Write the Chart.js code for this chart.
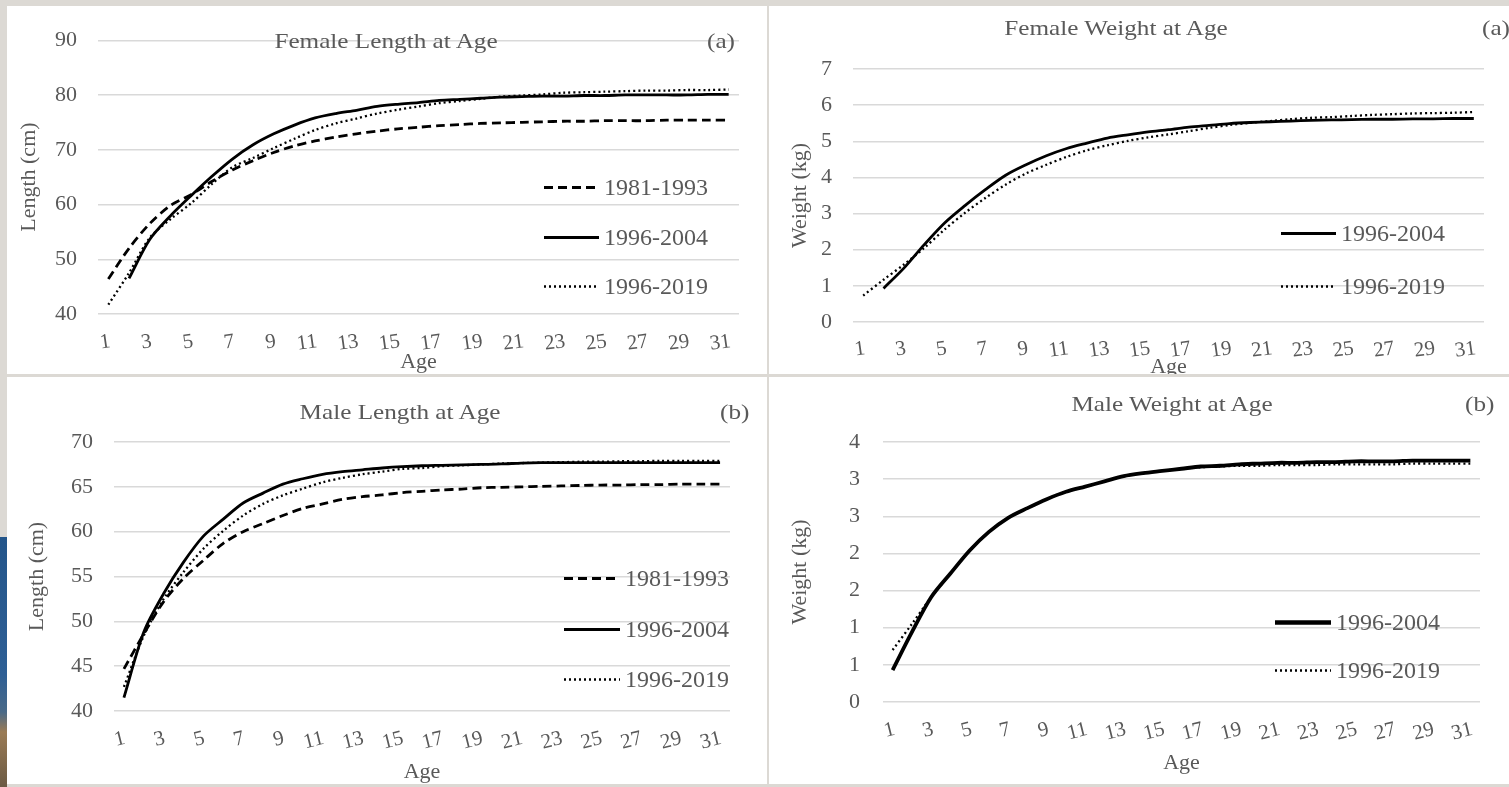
<!DOCTYPE html>
<html>
<head>
<meta charset="utf-8">
<script src="https://cdn.jsdelivr.net/npm/chart.js@4.4.1/dist/chart.umd.min.js"></script>
<style>
  html, body { margin: 0; padding: 0; }
  body {
    width: 1509px; height: 787px; position: relative; overflow: hidden;
    background: #dcd9d4; font-family: "Liberation Serif", "Times New Roman", serif; color: #595959;
  }
  .panel { position: absolute; background: #fff; overflow: hidden; }
  .panel canvas { position: absolute; left: 0; top: 0; }
  .title { position: absolute; font-size: 21px; white-space: nowrap; transform: translate(-50%, -50%) scaleX(1.2); }
  .tag { position: absolute; font-size: 21px; white-space: nowrap; transform-origin: left center; transform: translateY(-50%) scaleX(1.2); }
  .legend-item { position: absolute; display: flex; align-items: center; font-size: 24px; white-space: nowrap; transform: translateY(-50%); }
  .legend-item svg { margin-right: 5px; }
  #photo {
    position: absolute; left: 0; top: 537px; width: 7px; height: 250px;
    background: linear-gradient(#23558a 0%, #2e5f95 55%, #4a6a88 70%, #9a7b55 78%, #6b5a44 100%);
  }
</style>
</head>
<body>
<div id="photo"></div>
<div class="panel" style="left:7px;top:6px;width:760px;height:368px"><canvas id="femLen" width="760" height="368"></canvas></div>
<div class="panel" style="left:769px;top:6px;width:740px;height:368px"><canvas id="femWt" width="740" height="368"></canvas></div>
<div class="panel" style="left:7px;top:377px;width:760px;height:407px"><canvas id="maleLen" width="760" height="407"></canvas></div>
<div class="panel" style="left:769px;top:377px;width:740px;height:407px"><canvas id="maleWt" width="740" height="407"></canvas></div>

<div class="title" style="left:386px;top:41px">Female Length at Age</div>
<div class="tag" style="left:707px;top:41px">(a)</div>
<div class="title" style="left:1116px;top:28px">Female Weight at Age</div>
<div class="tag" style="left:1482px;top:28px">(a)</div>
<div class="title" style="left:400px;top:412px">Male Length at Age</div>
<div class="tag" style="left:720px;top:412px">(b)</div>
<div class="title" style="left:1172px;top:404px">Male Weight at Age</div>
<div class="tag" style="left:1465px;top:404px">(b)</div>

<script>
// ages on the x axis
const ages = [1, 2, 3, 4, 5, 6, 7, 8, 9, 10, 11, 12, 13, 14, 15, 16, 17, 18, 19, 20,
  21, 22, 23, 24, 25, 26, 27, 28, 29, 30, 31];

const seriesNames = ["1981-1993", "1996-2004", "1996-2019"];

// female length (cm)
const femLen1981 = [46.4, 52.0, 56.5, 59.8, 61.8, 64.2, 66.3, 68.0, 69.5, 70.7, 71.6, 72.3, 72.9, 73.4, 73.8,
  74.1, 74.4, 74.6, 74.8, 74.9, 75.0, 75.1, 75.2, 75.2, 75.3, 75.3, 75.3, 75.4, 75.4, 75.4, 75.4];
const femLen2004 = [null, 46.5, 53.6, 57.9, 61.6, 65.1, 68.3, 70.9, 72.9, 74.5, 75.8, 76.6, 77.2, 77.9, 78.3,
  78.6, 79.0, 79.2, 79.4, 79.6, 79.7, 79.8, 79.8, 79.9, 79.9, 80.0, 80.0, 80.0, 80.0, 80.1, 80.1];
const femLen2019 = [41.7, 47.5, 53.9, 57.3, 60.2, 63.7, 66.8, 68.5, 70.3, 72.0, 73.6, 74.8, 75.7, 76.6, 77.3,
  77.9, 78.5, 78.9, 79.3, 79.7, 79.9, 80.1, 80.4, 80.5, 80.6, 80.7, 80.8, 80.8, 80.9, 80.9, 81.0];

// female weight (kg)
const femWt2004 = [null, 0.93, 1.49, 2.14, 2.74, 3.22, 3.66, 4.06, 4.35, 4.60, 4.80, 4.95, 5.09, 5.18, 5.26,
  5.32, 5.39, 5.44, 5.49, 5.52, 5.54, 5.56, 5.58, 5.59, 5.60, 5.61, 5.61, 5.62, 5.62, 5.63, 5.63];
const femWt2019 = [0.73, 1.17, 1.59, 2.05, 2.56, 3.02, 3.43, 3.80, 4.11, 4.35, 4.57, 4.75, 4.89, 5.01, 5.11,
  5.19, 5.28, 5.37, 5.45, 5.51, 5.56, 5.61, 5.65, 5.67, 5.70, 5.73, 5.75, 5.77, 5.78, 5.79, 5.81];

// male length (cm)
const maleLen1981 = [44.7, 48.6, 52.2, 54.8, 56.8, 58.7, 60.0, 60.9, 61.8, 62.6, 63.1, 63.6, 63.9, 64.1, 64.35,
  64.5, 64.65, 64.75, 64.9, 64.95, 65.0, 65.05, 65.1, 65.15, 65.2, 65.2, 65.25, 65.25, 65.3, 65.3, 65.3];
const maleLen2004 = [41.5, 48.8, 53.1, 56.6, 59.5, 61.4, 63.2, 64.3, 65.3, 65.9, 66.4, 66.7, 66.9, 67.1, 67.25,
  67.35, 67.4, 67.45, 67.5, 67.55, 67.65, 67.7, 67.7, 67.7, 67.7, 67.7, 67.7, 67.7, 67.7, 67.7, 67.7];
const maleLen2019 = [42.7, 48.4, 52.5, 55.5, 58.1, 60.1, 61.8, 63.1, 64.05, 64.8, 65.5, 66.0, 66.4, 66.7, 67.0,
  67.1, 67.3, 67.4, 67.5, 67.6, 67.65, 67.7, 67.75, 67.8, 67.8, 67.85, 67.85, 67.9, 67.9, 67.9, 67.9];

// male weight (kg)
const maleWt2004 = [0.43, 0.94, 1.41, 1.73, 2.04, 2.29, 2.48, 2.61, 2.73, 2.83, 2.90, 2.97, 3.04, 3.08, 3.11,
  3.14, 3.17, 3.18, 3.20, 3.21, 3.22, 3.22, 3.23, 3.23, 3.24, 3.24, 3.24, 3.25, 3.25, 3.25, 3.25];
const maleWt2019 = [0.70, 1.05, 1.41, 1.73, 2.04, 2.29, 2.48, 2.61, 2.73, 2.83, 2.90, 2.97, 3.04, 3.08, 3.11,
  3.14, 3.16, 3.17, 3.18, 3.18, 3.19, 3.19, 3.19, 3.20, 3.20, 3.20, 3.20, 3.21, 3.21, 3.21, 3.21];

const textColor = "#595959";
Chart.defaults.font.family = '"Liberation Serif", "Times New Roman", serif';
Chart.defaults.color = textColor;

const lineStyles = {
  "1981-1993": { borderDash: [9, 5], borderWidth: 2.8 },
  "1996-2004": { borderDash: [], borderWidth: 2.8 },
  "1996-2019": { borderDash: [2, 3], borderWidth: 2.3 },
};

function series(name, values, width) {
  const st = lineStyles[name];
  return {
    label: name,
    data: values,
    borderColor: "#000",
    borderWidth: width || st.borderWidth,
    borderDash: st.borderDash,
    pointRadius: 0,
    tension: 0.3,
    spanGaps: false,
  };
}

function buildChart(id, datasets, yOpts, geo) {
  return new Chart(document.getElementById(id), {
    type: "line",
    data: { labels: ages, datasets: datasets },
    options: {
      responsive: false,
      animation: false,
      layout: { padding: { top: geo.top, right: geo.right, left: 0, bottom: 0 } },
      plugins: { legend: { display: false }, tooltip: { enabled: false } },
      scales: {
        x: {
          offset: true,
          grid: { display: false },
          border: { display: false },
          ticks: {
            autoSkip: false,
            minRotation: geo.rot,
            maxRotation: geo.rot,
            labelOffset: geo.labelShift,
            padding: geo.xTickPad,
            color: textColor,
            font: { size: 21 },
            callback: (v, i) => (i % 2 === 0 ? ages[i] : ""),
          },
          title: { display: true, text: "Age", color: textColor, font: { size: 22 },
            padding: { top: 0, bottom: geo.xTitlePad } },
          afterFit: (s) => { s.height = geo.xHeight; },
        },
        y: {
          min: yOpts.min,
          max: yOpts.max,
          grid: { color: "#d9d9d9", lineWidth: 1.4, drawTicks: false },
          border: { display: false },
          ticks: {
            stepSize: yOpts.step,
            padding: geo.yTickPad,
            color: textColor,
            font: { size: 22 },
            callback: yOpts.fmt || ((v) => v),
          },
          title: { display: true, text: yOpts.title, color: textColor, font: { size: 22 },
            padding: { top: geo.yTitlePad, bottom: 0 } },
          afterFit: (s) => { s.width = geo.yWidth; },
        },
      },
    },
  });
}

buildChart("femLen",
  [series("1981-1993", femLen1981), series("1996-2004", femLen2004), series("1996-2019", femLen2019)],
  { min: 40, max: 90, step: 10, title: "Length (cm)" },
  { top: 18, right: 28, yWidth: 91, xHeight: 60, rot: 8, labelShift: 2, xTickPad: 7, xTitlePad: -1, yTickPad: 21, yTitlePad: 9 });

buildChart("femWt",
  [series("1996-2004", femWt2004), series("1996-2019", femWt2019)],
  { min: 0, max: 7, step: 1, title: "Weight (kg)" },
  { top: 63, right: 25, yWidth: 84, xHeight: 52, rot: 8, labelShift: 2, xTickPad: 6, xTitlePad: -6, yTickPad: 21, yTitlePad: 18 });

buildChart("maleLen",
  [series("1981-1993", maleLen1981), series("1996-2004", maleLen2004), series("1996-2019", maleLen2019)],
  { min: 40, max: 70, step: 5, title: "Length (cm)" },
  { top: 65, right: 37, yWidth: 107, xHeight: 73, rot: 14, labelShift: 1, xTickPad: 7, xTitlePad: -1, yTickPad: 21, yTitlePad: 17 });

buildChart("maleWt",
  [series("1996-2004", maleWt2004, 3.8), series("1996-2019", maleWt2019)],
  { min: 0, max: 3.5, step: 0.5, title: "Weight (kg)", fmt: (v) => Math.round(v) },
  { top: 65, right: 29, yWidth: 114, xHeight: 82, rot: 14, labelShift: 2, xTickPad: 7, xTitlePad: 8, yTickPad: 23, yTitlePad: 18 });

// legends drawn inside the plot areas, like the original
const dashes = { "1981-1993": "9 5", "1996-2004": "", "1996-2019": "2 3" };
function legendItem(x, y, name, sampleWidth, strokeWidth) {
  const div = document.createElement("div");
  div.className = "legend-item";
  div.style.left = x + "px";
  div.style.top = y + "px";
  div.innerHTML =
    '<svg width="' + sampleWidth + '" height="8"><line x1="0" y1="4" x2="' + sampleWidth +
    '" y2="4" stroke="#000" stroke-width="' + strokeWidth + '" stroke-dasharray="' + dashes[name] +
    '"/></svg><span>' + name + "</span>";
  document.body.appendChild(div);
}
legendItem(544, 187, seriesNames[0], 55, 3.2);
legendItem(544, 237, seriesNames[1], 55, 3.2);
legendItem(544, 286, seriesNames[2], 55, 2.5);
legendItem(1281, 233, seriesNames[1], 55, 3.2);
legendItem(1281, 286, seriesNames[2], 55, 2.5);
legendItem(564, 578, seriesNames[0], 56, 3.2);
legendItem(564, 629, seriesNames[1], 56, 3.2);
legendItem(564, 679, seriesNames[2], 56, 2.5);
legendItem(1275, 622, seriesNames[1], 56, 4.5);
legendItem(1275, 670, seriesNames[2], 56, 2.5);
</script>
</body>
</html>
